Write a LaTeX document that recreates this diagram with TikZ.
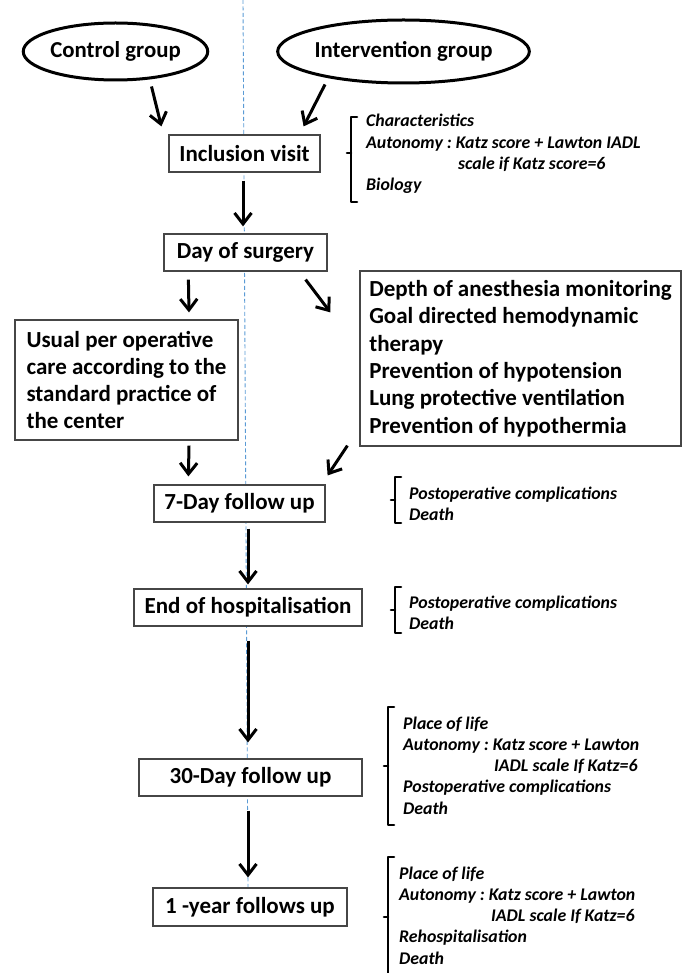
\documentclass[tikz,border=0pt]{standalone}
\usepackage{fontspec}
\setmainfont{Carlito}
\usetikzlibrary{arrows.meta,calc,shapes.geometric}
\definecolor{axisblue}{RGB}{91,155,213}
\definecolor{boxgray}{RGB}{70,70,70}
\newcommand{\sidebrack}[4]{%
  \draw[brk] ({#1+6},#2) -- (#1,#2) -- (#1,#3) -- ({#1+6},#3);
  \draw[brk] (#1,#4) -- ({#1-4},#4);}
\frenchspacing
\begin{document}
\begin{tikzpicture}[x=1pt,y=-1pt,
  box/.style={draw=boxgray,line width=1.2pt,fill=white,inner sep=0pt,
    font=\fontsize{23}{27.3}\selectfont\bfseries},
  grp/.style={ellipse,draw=black,line width=3pt,fill=white,inner sep=0pt,
    font=\fontsize{22.8}{26}\selectfont\bfseries},
  arr/.style={line width=3pt,-{Straight Barb[length=11pt,width=17pt]}},
  brk/.style={line width=2.6pt,line cap=round,line join=round},
  note/.style={anchor=west,align=left,inner sep=0pt,
    font=\fontsize{17.8}{21.3}\selectfont\bfseries\itshape\frenchspacing},
  axisline/.style={draw=axisblue,line width=0.9pt,dash pattern=on 4pt off 2.5pt}]
\useasboundingbox (0,0) rectangle (682,973);

% dashed axis
\coordinate (axtop) at (243,0);
\coordinate (axbot) at (248,888);
\draw[axisline] (axtop) -- (axbot);

% groups
\node[grp,minimum width=147pt,minimum height=57pt] (ctrl) at (115.5,51.5) {Control group};
\node[grp,minimum width=219pt,minimum height=63pt] (interv) at (403.5,51.5) {Intervention group};

% main boxes
\node[box,minimum width=151pt,minimum height=37pt] (incl) at (244.5,153.5) {Inclusion visit};
\node[box,minimum width=163pt,minimum height=37pt] (surg) at (245.5,252.5) {Day of surgery};
\node[box,minimum width=223pt,minimum height=120pt,align=left] (usual) at (126.5,380)
  {Usual per operative\\care according to the\\standard practice of\\the center};
\node[box,minimum width=321pt,minimum height=175pt,align=left] (ibox) at (520.5,358.5)
  {Depth of anesthesia monitoring\\Goal directed hemodynamic\\therapy\\Prevention of hypotension\\Lung protective ventilation\\Prevention of hypothermia};
\node[box,minimum width=171pt,minimum height=37pt] (day7) at (239.5,503.5) {7-Day follow up};
\node[box,minimum width=228pt,minimum height=37pt] (endh) at (248,607.5) {End of hospitalisation};
\node[box,minimum width=223pt,minimum height=37pt] (day30) at (250.5,777.5) {30-Day follow up};
\node[box,minimum width=194pt,minimum height=38pt] (year1) at (250,907) {1 -year follows up};

% arrows
\draw[arr] ($(ctrl.south)+(36,5)$) -- ($(incl.north west)+(-7,-8)$);
\draw[arr] ($(interv.south)+(-78.5,0)$) -- ($(incl.north east)+(-17,-8)$);
\draw[arr] ($(incl.south)+(-1.5,8)$) -- ($(surg.north)+(-2.5,-7)$);
\draw[arr] ($(surg.south west)+(25,8)$) -- ($(usual.north)+(62.5,-7)$);
\draw[arr] ($(surg.south east)+(-22,8)$) -- ($(ibox.north west)+(-29,42)$);
\draw[arr] ($(usual.south)+(62.5,5)$) -- ($(day7.north west)+(35,-8)$);
\draw[arr] ($(ibox.south west)+(-12,-1)$) -- ($(day7.north east)+(2,-9)$);
\draw[arr] ($(day7.south)+(8.5,6)$) -- ($(endh.north)+(0,-4)$);
\draw[arr] ($(endh.south)+(0,14)$) -- ($(day30.north)+(-2.5,-16)$);
\draw[arr] ($(day30.south)+(-2.5,14)$) -- ($(year1.north)+(-2,-10)$);

% side notes
\node[note] (n1) at (366,154)
  {Characteristics\\Autonomy : Katz score + Lawton IADL\\\hspace*{92pt}scale if Katz score=6\\Biology};
\node[note] (n7) at (409,503.5) {Postoperative complications\\Death};
\node[note] (nE) at (409,613) {Postoperative complications\\Death};
\node[note] (n30) at (403,765.5)
  {Place of life\\Autonomy : Katz score + Lawton\\\hspace*{91pt}IADL scale If Katz=6\\Postoperative complications\\Death};
\node[note] (n1y) at (399,915.5)
  {Place of life\\Autonomy : Katz score + Lawton\\\hspace*{92pt}IADL scale If Katz=6\\Rehospitalisation\\Death};

% brackets
\sidebrack{351}{117}{202}{153}
\sidebrack{395}{477}{523}{500}
\sidebrack{395}{587}{633}{610}
\sidebrack{388}{707}{825}{766}
\sidebrack{388}{857}{985}{917}
\end{tikzpicture}
\end{document}
